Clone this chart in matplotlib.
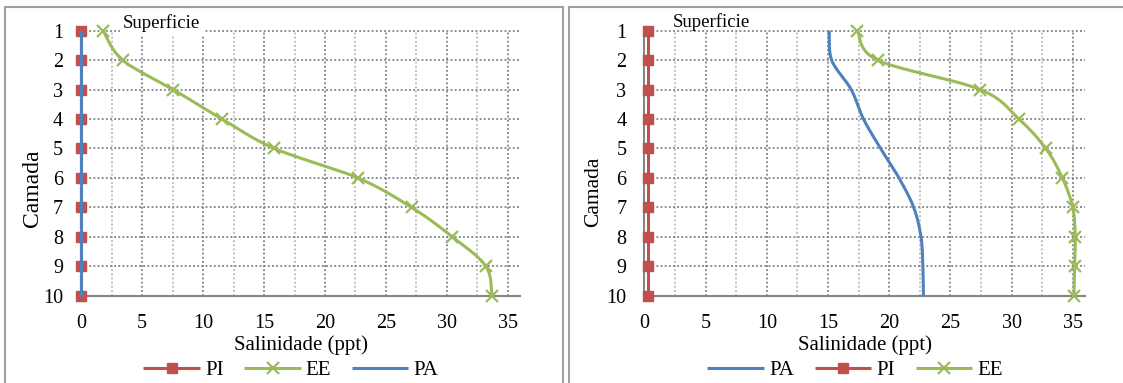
import numpy as np
import matplotlib
matplotlib.use("Agg")
import matplotlib.pyplot as plt
from matplotlib.patches import Rectangle

plt.rcParams["font.family"] = ["Liberation Serif", "DejaVu Serif"]

# Layers (camadas) from surface (1) to bottom (10)
camadas = [1, 2, 3, 4, 5, 6, 7, 8, 9, 10]

# Salinity (ppt) per layer - first profile
left_pi = [0, 0, 0, 0, 0, 0, 0, 0, 0, 0]
left_ee = [1.8, 3.4, 7.55, 11.55, 15.85, 22.7, 27.1, 30.45, 33.2, 33.7]
left_pa = [0, 0, 0, 0, 0, 0, 0, 0, 0, 0]

# Salinity (ppt) per layer - second profile
right_pa = [15.1, 15.3, 16.9, 17.9, 19.3, 20.8, 22.0, 22.6, 22.75, 22.8]
right_pi = [0.3, 0.3, 0.3, 0.3, 0.3, 0.3, 0.3, 0.3, 0.3, 0.3]
right_ee = [17.4, 19.05, 27.45, 30.6, 32.8, 34.15, 35.0, 35.2, 35.15, 35.1]

x_ticks = [0, 5, 10, 15, 20, 25, 30, 35]

C_PI = "#C0504D"
C_EE = "#9BBB59"
C_PA = "#4F81BD"
GRID_MAJOR = "#7f7f7f"
GRID_MINOR = "#b8b8b8"
AXIS_GRAY = "#868686"

W, H = 1123, 383
fig = plt.figure(figsize=(W / 100, H / 100), dpi=100)


def px_rect(x0, x1, ytop, ybot):
    return [x0 / W, 1 - ybot / H, (x1 - x0) / W, (ybot - ytop) / H]


def smooth_curve(xs, ys, n=24):
    """Cubic Bezier smoothing through every point (Catmull-Rom style)."""
    pts = np.column_stack([xs, ys]).astype(float)
    P = np.vstack([pts[0], pts, pts[-1]])
    out = []
    t = np.linspace(0, 1, n)[:-1][:, None]
    for i in range(len(pts) - 1):
        p0, p1, p2, p3 = P[i], P[i + 1], P[i + 2], P[i + 3]
        c1 = p1 + (p2 - p0) / 6.0
        c2 = p2 - (p3 - p1) / 6.0
        seg = ((1 - t) ** 3) * p1 + 3 * ((1 - t) ** 2) * t * c1 + 3 * (1 - t) * t ** 2 * c2 + t ** 3 * p2
        out.append(seg)
    out.append(pts[-1][None, :])
    curve = np.vstack(out)
    marks = [i * (n - 1) for i in range(len(pts))]
    return curve[:, 0], curve[:, 1], marks


def draw_series(ax, values, color, marker, label, z):
    cx, cy, marks = smooth_curve(values, camadas)
    kw = dict(color=color, lw=2.2, label=label, zorder=z, clip_on=False,
              solid_capstyle="butt")
    if marker == "s":
        kw.update(marker="s", markersize=6.5, markerfacecolor=color,
                  markeredgecolor=color, markevery=marks)
    elif marker == "x":
        kw.update(marker="x", markersize=8, markeredgewidth=1.6,
                  markeredgecolor=color, markevery=marks)
    ax.plot(cx, cy, **kw)


def style_axes(ax):
    ax.set_xlim(0, 36)
    ax.set_ylim(10, 1)
    ax.set_xticks(x_ticks)
    ax.set_yticks(camadas)
    ax.set_yticklabels([str(c) for c in camadas])
    ax.tick_params(length=0, labelsize=14.5, pad=13)
    for s in ("top", "right"):
        ax.spines[s].set_visible(False)
    for s in ("left", "bottom"):
        ax.spines[s].set_color(AXIS_GRAY)
        ax.spines[s].set_linewidth(1.5)
        ax.spines[s].set_zorder(2)
    dots = (0, (1.0, 1.3))
    for xv in np.arange(2.5, 35.1, 2.5):
        major = abs(xv / 5 - round(xv / 5)) < 1e-9
        ax.axvline(xv, color=GRID_MAJOR if major else GRID_MINOR, lw=1.3,
                   ls=dots, zorder=0.5)
    for yv in camadas[:-1]:
        ax.axhline(yv, color=GRID_MAJOR, lw=1.3, ls=dots, zorder=0.5,
                   clip_on=False)
    ax.set_xlabel("Salinidade (ppt)", fontsize=15, labelpad=2)


# ---- first profile ----
ax1 = fig.add_axes(px_rect(81.2, 520, 30.7, 295.7))
style_axes(ax1)
draw_series(ax1, left_pi, C_PI, "s", "PI", 3)
draw_series(ax1, left_ee, C_EE, "x", "EE", 4)
draw_series(ax1, left_pa, C_PA, None, "PA", 5)
fig.text(32.5 / W, 1 - 188 / H, "Camada", rotation=90, ha="center",
         va="center", fontsize=17)
fig.text(161.7 / W, 1 - 22.7 / H, "Superficie", ha="center", va="center",
         fontsize=13.5, zorder=10,
         bbox=dict(facecolor="white", edgecolor="none", pad=2.5))
ax1.legend(loc="center", bbox_to_anchor=(291 / W, 1 - 370.5 / H),
           bbox_transform=fig.transFigure, ncol=3, frameon=False,
           fontsize=15, handlelength=2.7, handletextpad=0.25,
           columnspacing=1.0, borderpad=0, borderaxespad=0)

# ---- second profile ----
ax2 = fig.add_axes(px_rect(644.4, 1085, 30.7, 295.7))
style_axes(ax2)
draw_series(ax2, right_pa, C_PA, None, "PA", 3)
draw_series(ax2, right_pi, C_PI, "s", "PI", 4)
draw_series(ax2, right_ee, C_EE, "x", "EE", 5)
fig.text(594 / W, 1 - 191.7 / H, "Camada", rotation=90, ha="center",
         va="center", fontsize=15.5)
fig.text(711.7 / W, 1 - 22.5 / H, "Superficie", ha="center", va="center",
         fontsize=13.5, zorder=10)
ax2.legend(loc="center", bbox_to_anchor=(855 / W, 1 - 370.5 / H),
           bbox_transform=fig.transFigure, ncol=3, frameon=False,
           fontsize=15, handlelength=2.7, handletextpad=0.25,
           columnspacing=1.0, borderpad=0, borderaxespad=0)

# chart-area borders around each panel
for x0, x1 in ((5, 563), (569, 1140)):
    fig.patches.append(Rectangle((x0 / W, -0.1), (x1 - x0) / W,
                                 1.1 - 7.3 / H, transform=fig.transFigure,
                                 fill=False, edgecolor="#a0a0a0", lw=1.5,
                                 zorder=0))

fig.savefig("out.png", dpi=100)
